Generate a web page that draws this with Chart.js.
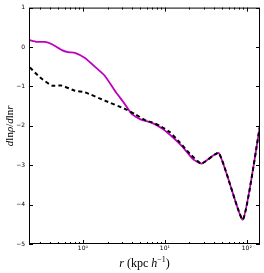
<!DOCTYPE html>
<html>
<head>
<meta charset="utf-8">
<script src="https://cdn.jsdelivr.net/npm/chart.js@4.4.1/dist/chart.umd.min.js"></script>
<style>
  html, body { margin: 0; padding: 0; background: #fff; }
</style>
</head>
<body>
<canvas id="graph" width="264" height="273"></canvas>
<script>
// radius (kpc/h) and log slope
const rMagenta = [0.22, 0.275, 0.344, 0.419, 0.555, 0.656, 0.80, 1.06, 1.40, 1.85, 2.46, 3.25, 3.93, 4.96, 6.87, 9.45, 12.5, 16.6, 21.9, 28.0, 45.6, 89.4, 145];
const slopeMagenta = [0.18, 0.13, 0.13, 0.07, -0.08, -0.13, -0.15, -0.28, -0.50, -0.73, -1.11, -1.45, -1.70, -1.83, -1.92, -2.08, -2.29, -2.54, -2.84, -2.96, -2.69, -4.38, -2.0];

const rDashed = [0.226, 0.299, 0.419, 0.555, 0.799, 1.06, 1.85, 3.25, 4.3, 5.9, 6.9, 8.7, 11.5, 15.2, 20.2, 28.0, 45.6, 89.4, 145];
const slopeDashed = [-0.52, -0.77, -0.98, -0.98, -1.11, -1.15, -1.36, -1.57, -1.70, -1.87, -1.91, -2.0, -2.16, -2.42, -2.71, -2.96, -2.69, -4.38, -2.0];

const xTickValues = [1, 10, 100];
const xTickLabels = ['10\u2070', '10\u00b9', '10\u00b2'];
const yTickValues = [1, 0, -1, -2, -3, -4, -5];

const toPoints = (xs, ys) => xs.map((x, i) => ({ x: x, y: ys[i] }));

// inward ticks on all four sides plus the box, matplotlib style
const frameTicks = {
  id: 'frameTicks',
  afterDraw(chart) {
    const ctx = chart.ctx;
    const a = chart.chartArea;
    const xs = chart.scales.x;
    const ys = chart.scales.y;
    ctx.save();
    ctx.strokeStyle = '#000';
    ctx.lineWidth = 1;
    ctx.strokeRect(a.left + 0.5, a.top + 0.5, a.right - a.left - 1, a.bottom - a.top - 1);

    ctx.beginPath();
    yTickValues.forEach(v => {
      const py = Math.round(ys.getPixelForValue(v)) + 0.5;
      ctx.moveTo(a.left, py); ctx.lineTo(a.left + 4, py);
      ctx.moveTo(a.right, py); ctx.lineTo(a.right - 4, py);
    });
    [0.1, 1, 10, 100].forEach(d => {
      for (let m = 1; m <= 9; m++) {
        const v = m * d;
        if (v < xs.min || v > xs.max) continue;
        const px = Math.round(xs.getPixelForValue(v)) + 0.5;
        const len = m === 1 ? 4 : 2;
        ctx.moveTo(px, a.bottom); ctx.lineTo(px, a.bottom - len);
        ctx.moveTo(px, a.top); ctx.lineTo(px, a.top + len);
      }
    });
    ctx.stroke();

    // axis titles
    ctx.fillStyle = '#000';
    ctx.textBaseline = 'alphabetic';
    const serif = '"Liberation Serif", "DejaVu Serif", serif';
    const drawRich = (parts, cx, cy) => {
      let total = 0;
      parts.forEach(p => { ctx.font = p.f; p.w = ctx.measureText(p.t).width; total += p.w; });
      let x = cx - total / 2;
      parts.forEach(p => {
        ctx.font = p.f;
        ctx.fillText(p.t, x, cy + (p.dy || 0));
        x += p.w;
      });
    };
    drawRich([
      { t: 'r', f: 'italic 12px ' + serif },
      { t: ' (kpc ', f: '12px ' + serif },
      { t: 'h', f: 'italic 12px ' + serif },
      { t: '\u22121', f: '8px ' + serif, dy: -5 },
      { t: ')', f: '12px ' + serif }
    ], (a.left + a.right) / 2, 267);

    ctx.translate(13, (a.top + a.bottom) / 2);
    ctx.rotate(-Math.PI / 2);
    drawRich([
      { t: 'd', f: 'italic 11px ' + serif },
      { t: 'ln', f: '11px ' + serif },
      { t: '\u03c1', f: 'italic 11px ' + serif },
      { t: '/', f: '11px ' + serif },
      { t: 'd', f: 'italic 11px ' + serif },
      { t: 'ln', f: '11px ' + serif },
      { t: 'r', f: 'italic 11px ' + serif }
    ], 0, 0);
    ctx.restore();
  }
};

new Chart(document.getElementById('graph').getContext('2d'), {
  type: 'line',
  data: {
    datasets: [
      {
        label: 'magenta',
        data: toPoints(rMagenta, slopeMagenta),
        borderColor: '#c000c0',
        borderWidth: 1.8,
        pointRadius: 0,
        tension: 0.15,
        fill: false,
        order: 2
      },
      {
        label: 'dashed',
        data: toPoints(rDashed, slopeDashed),
        borderColor: '#000',
        borderWidth: 2,
        borderDash: [4, 3],
        pointRadius: 0,
        tension: 0.15,
        fill: false,
        order: 1
      }
    ]
  },
  plugins: [frameTicks],
  options: {
    responsive: false,
    animation: false,
    layout: { padding: { top: 6, right: 4, left: 0, bottom: 0 } },
    plugins: { legend: { display: false }, tooltip: { enabled: false } },
    scales: {
      x: {
        type: 'logarithmic',
        min: 0.22,
        max: 145,
        afterBuildTicks: s => { s.ticks = xTickValues.map(v => ({ value: v })); },
        afterFit: s => { s.height = 29; },
        grid: { display: false, drawTicks: false },
        border: { display: false },
        ticks: {
          autoSkip: false,
          maxRotation: 0,
          padding: 1,
          color: '#000',
          font: { size: 6, family: '"DejaVu Sans", sans-serif' },
          callback: v => {
            const i = xTickValues.indexOf(v);
            return i >= 0 ? xTickLabels[i] : '';
          }
        }
      },
      y: {
        min: -5,
        max: 1,
        afterBuildTicks: s => { s.ticks = yTickValues.map(v => ({ value: v })); },
        afterFit: s => { s.width = 29; },
        grid: { display: false, drawTicks: false },
        border: { display: false },
        ticks: {
          padding: 4,
          color: '#000',
          font: { size: 6, family: '"DejaVu Sans", sans-serif' },
          callback: v => (v < 0 ? '\u2212' + Math.abs(v) : String(v))
        }
      }
    }
  }
});
</script>
</body>
</html>
